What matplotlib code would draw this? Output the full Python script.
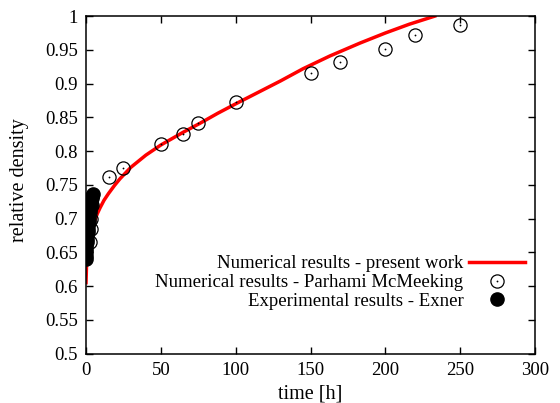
import matplotlib
matplotlib.use("Agg")
import matplotlib.pyplot as plt
from matplotlib.lines import Line2D

plt.rcParams['font.family'] = ['Liberation Serif', 'DejaVu Serif']

# Numerical results - present work (curve)
t_model = [0, 0.3, 1, 2, 3.5, 5.5, 7.5, 9.4, 12, 15, 19, 22.7, 30, 40, 50, 65, 76,
           88, 100, 115, 130, 145, 163, 183, 200, 216, 233]
rho_model = [0.605, 0.628, 0.650, 0.665, 0.680, 0.695, 0.707, 0.716, 0.727, 0.737,
             0.749, 0.759, 0.776, 0.794, 0.809, 0.828, 0.841, 0.856, 0.870, 0.887,
             0.904, 0.922, 0.941, 0.960, 0.975, 0.988, 1.0]

# Numerical results - Parhami McMeeking
t_pm = [2.5, 3, 3.5, 4, 15.5, 25, 50, 65, 75, 100, 150, 170, 200, 220, 250]
rho_pm = [0.665, 0.685, 0.70, 0.72, 0.761, 0.775, 0.811, 0.826, 0.841, 0.872,
          0.916, 0.932, 0.951, 0.972, 0.987]

# Experimental results - Exner
t_exp = [0, 0, 0.1, 0.2, 0.3, 0.5, 0.6, 0.8, 1.0, 1.2, 1.5, 1.7, 2.0, 2.3, 2.5,
         2.8, 3.0, 3.3, 3.6, 4.0, 4.3, 4.6]
rho_exp = [0.640, 0.645, 0.650, 0.655, 0.660, 0.665, 0.670, 0.675, 0.680, 0.685,
           0.690, 0.695, 0.700, 0.705, 0.710, 0.714, 0.718, 0.722, 0.726, 0.730,
           0.733, 0.736]

fig = plt.figure(figsize=(5.6, 4.03), dpi=100)
ax = fig.add_axes([0.1536, 0.1228, 0.8018, 0.8372])

ax.plot(t_model, rho_model, color='red', lw=2.5, zorder=2)
ax.plot(t_pm, rho_pm, ls='none', marker='o', ms=9.5, mfc='none', mec='black',
        mew=0.9, zorder=3)
ax.plot(t_pm, rho_pm, ls='none', marker='o', ms=1.3, mfc='black', mec='black',
        mew=0, zorder=3)
ax.plot(t_exp, rho_exp, ls='none', marker='o', ms=9.5, mfc='black', mec='black',
        zorder=4)

ax.set_xlim(0, 300)
ax.set_ylim(0.5, 1.0)
ax.set_xticks(range(0, 301, 50))
ax.set_yticks([0.5, 0.55, 0.6, 0.65, 0.7, 0.75, 0.8, 0.85, 0.9, 0.95, 1.0])
ax.set_yticklabels(['0.5', '0.55', '0.6', '0.65', '0.7', '0.75', '0.8', '0.85',
                    '0.9', '0.95', '1'])
ax.tick_params(direction='in', top=True, right=True, length=5, width=1,
               labelsize=13.5, pad=6)
for s in ax.spines.values():
    s.set_linewidth(1.1)

ax.set_xlabel('time [h]', fontsize=14.5, labelpad=4)
ax.set_ylabel('relative density', fontsize=14.5)
ax.yaxis.set_label_coords(-0.128, 0.515)

h_line = Line2D([], [], color='red', lw=2.5)
h_circ = (Line2D([], [], ls='none', marker='o', ms=9.5, mfc='none', mec='black', mew=0.9),
          Line2D([], [], ls='none', marker='o', ms=1.3, mfc='black', mew=0))
h_dot = Line2D([], [], ls='none', marker='o', ms=9.5, mfc='black', mec='black')
ax.legend([h_line, h_circ, h_dot],
          ['Numerical results - present work',
           'Numerical results - Parhami McMeeking',
           'Experimental results - Exner'],
          markerfirst=False, frameon=False, fontsize=13.5, handlelength=3.0,
          handletextpad=0.3, labelspacing=0.08, borderpad=0, borderaxespad=0,
          loc='upper right', bbox_to_anchor=(0.978, 0.291))

fig.savefig('out.png', dpi=100)
